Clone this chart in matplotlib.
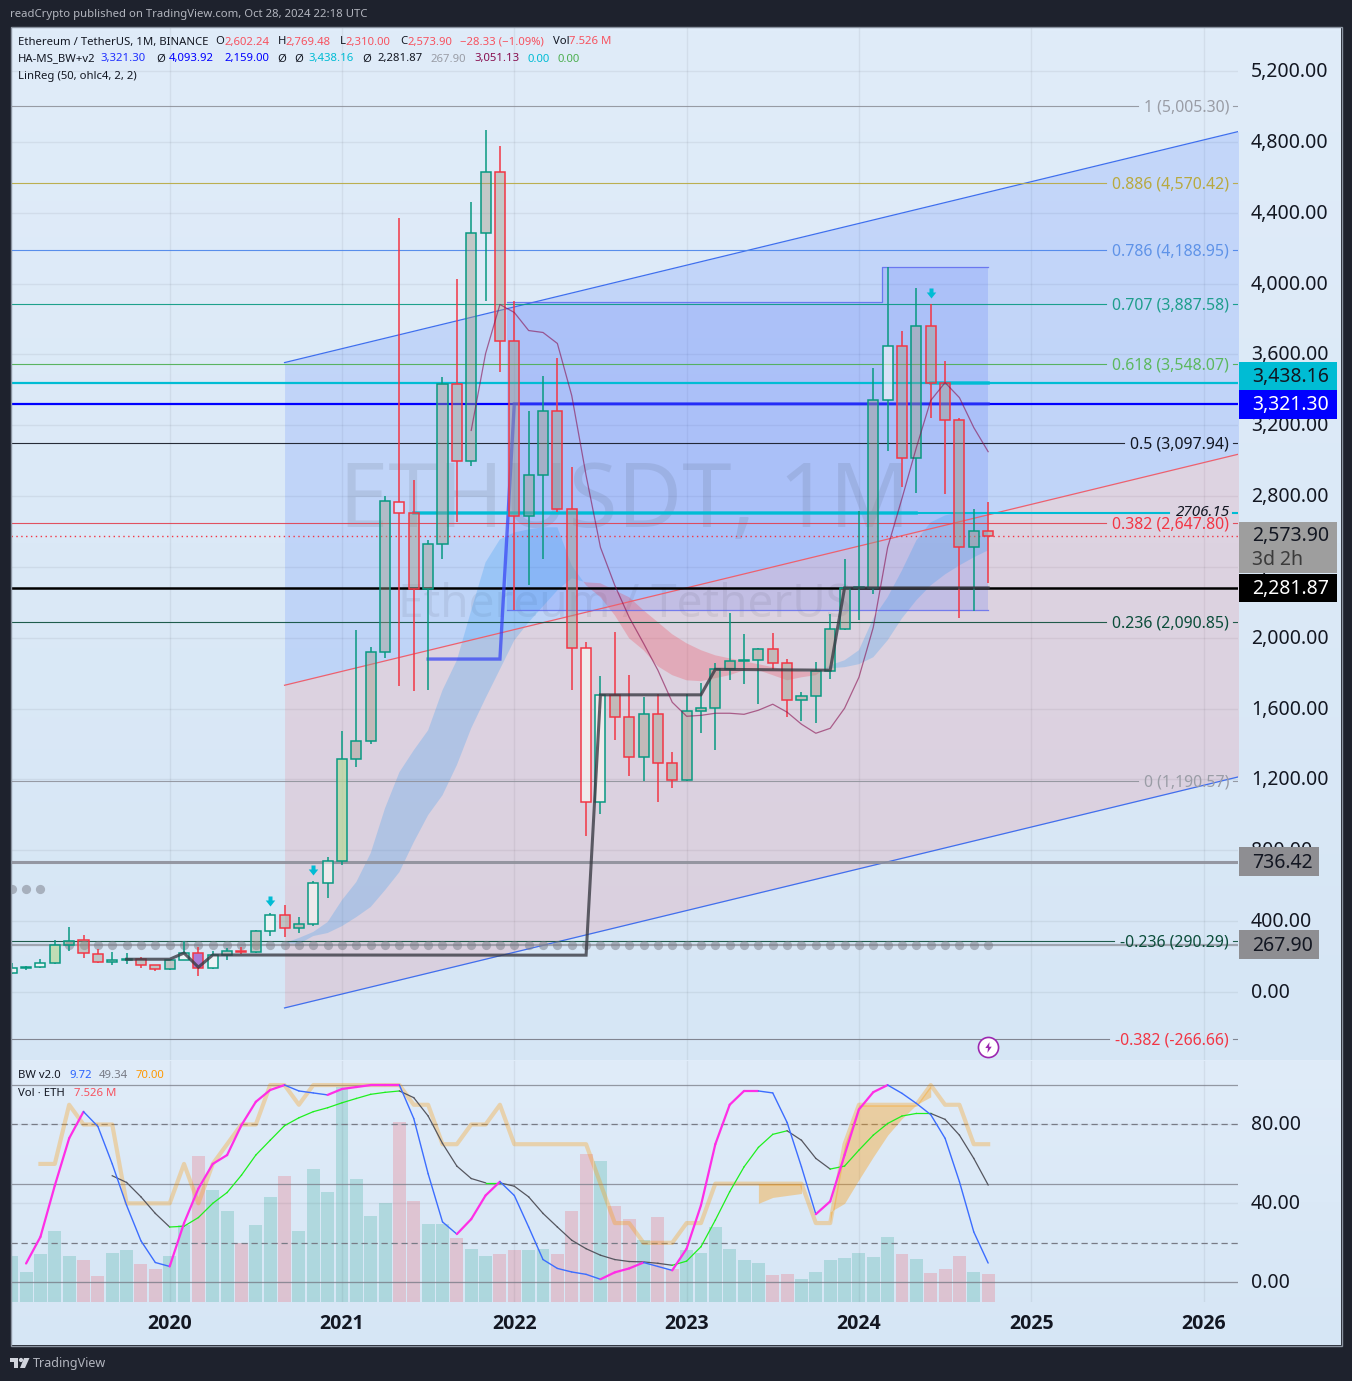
import numpy as np
import matplotlib
matplotlib.use('Agg')
import matplotlib.pyplot as plt
from matplotlib.colors import LinearSegmentedColormap
from matplotlib.patches import Rectangle, Polygon, Circle
from matplotlib.path import Path
from matplotlib.transforms import ScaledTranslation

plt.rcParams['font.family'] = ['Noto Sans', 'DejaVu Sans']

W, H = 1352, 1381

# months counted from Jan 2020
month_idx = list(range(-11, 58))
open_ = [107, 136, 141, 162, 268, 292, 217, 172, 180, 184, 151, 129, 180, 218, 133, 207, 231, 226, 346, 433, 359, 386, 616,
         737, 1313, 1416, 1917, 2769, 2706, 2275, 2530, 3433, 3000, 4288, 4631, 3676, 2688, 2919, 3281, 2727, 1942, 1071,
         1678, 1553, 1328, 1572, 1295, 1196, 1585, 1605, 1822, 1870, 1874, 1934, 1856, 1646, 1671, 1815, 2052, 2281, 2283,
         3340, 3646, 3015, 3760, 3438, 3232, 2513, 2602]
high = [165, 149, 186, 293, 366, 320, 243, 226, 220, 196, 152, 180, 288, 252, 231, 248, 254, 349, 445, 489, 422, 626, 762,
        1473, 2042, 1948, 2798, 4370, 2891, 2550, 3470, 4028, 4460, 4868, 4778, 3900, 3280, 3480, 3582, 2965, 1974, 1785,
        2030, 1790, 1663, 1680, 1353, 1680, 1743, 1857, 2142, 2020, 1945, 2029, 1879, 1694, 1865, 2136, 2445, 2717, 3522,
        4093, 3730, 3977, 3887, 3562, 3242, 2728, 2769]
low = [101, 125, 137, 159, 233, 193, 165, 154, 158, 136, 117, 126, 179, 90, 128, 180, 216, 220, 317, 308, 335, 373, 530,
       716, 1271, 1400, 1886, 1728, 1700, 1706, 2445, 2652, 2970, 3900, 3503, 2159, 2300, 2445, 2711, 1704, 880, 1006,
       1422, 1220, 1190, 1073, 1150, 1190, 1461, 1368, 1762, 1740, 1626, 1825, 1550, 1531, 1521, 1770, 2044, 2100, 2250,
       3056, 2852, 2817, 3240, 2810, 2111, 2150, 2310]
close = [136, 141, 162, 268, 290, 218, 172, 180, 183, 151, 129, 180, 218, 133, 207, 231, 226, 346, 433, 360, 386, 616, 737,
         1313, 1420, 1917, 2770, 2705, 2275, 2530, 3433, 3000, 4288, 4631, 3676, 2688, 2919, 3282, 2727, 1942, 1071, 1678,
         1553, 1328, 1572, 1295, 1196, 1585, 1605, 1822, 1870, 1874, 1934, 1856, 1646, 1671, 1815, 2052, 2281, 2283, 3340,
         3646, 3015, 3760, 3438, 3232, 2513, 2602, 2574]
volume = [12.5, 8.2, 12.8, 19.0, 12.3, 11.2, 6.9, 13.3, 13.9, 10.1, 8.8, 12.5, 20.6, 39.2, 30.0, 24.4, 15.8, 20.6, 28.1, 33.8,
          19.0, 35.7, 29.7, 57.8, 33.0, 23.0, 26.5, 48.3, 27.1, 20.9, 21.1, 17.1, 14.2, 12.5, 12.8, 13.9, 13.9, 14.2, 12.8,
          24.4, 39.7, 37.8, 25.7, 22.2, 16.6, 22.8, 9.0, 13.9, 13.1, 20.3, 14.2, 11.2, 10.4, 7.2, 7.4, 6.1, 8.2, 11.2, 11.7,
          13.1, 12.0, 17.4, 12.8, 11.5, 7.7, 8.8, 12.3, 8.0, 7.526]

light_candles = [-11, -9, 1, 3, 7, 10, 11, 29, 30, 50]
green_candles = [-8, 12]
purple_candles = [2]
soft_candles = [16]

years = ['2020', '2021', '2022', '2023', '2024', '2025', '2026']
year_months = [0, 12, 24, 36, 48, 60, 72]

# linear regression channel
channel_x = [8, 75]
channel_upper = [3554, 4870]
channel_mid = [1732, 3048]
channel_lower = [-90, 1226]

# range box from the indicator
box_x = [23.5, 49.6, 49.6, 57]
box_top = [3897, 3897, 4093, 4093]
box_bottom = [2159, 2159, 2159, 2159]

# ema ribbon
ribbon_x = list(range(8, 58))
ribbon_fast = [276, 305, 339, 395, 519, 621, 784, 1038, 1241, 1365, 1478, 1704, 1873, 2155, 2426, 2556, 2595, 2612, 2624, 2624,
               2409, 2296, 2229, 2127, 1997, 1930, 1839, 1789, 1760, 1755, 1772, 1789, 1817, 1817, 1789, 1760, 1777, 1789,
               1845, 1873, 1930, 2110, 2229, 2381, 2550, 2652, 2691, 2708, 2703, 2691]
ribbon_slow = [276, 271, 316, 333, 372, 423, 480, 575, 677, 846, 999, 1111, 1281, 1489, 1659, 1822, 1986, 2088, 2178, 2268,
               2336, 2313, 2308, 2268, 2229, 2155, 2088, 2020, 1969, 1930, 1901, 1884, 1867, 1851, 1834, 1817, 1811, 1805,
               1828, 1834, 1851, 1890, 1986, 2110, 2212, 2296, 2358, 2409, 2454, 2494]

# thin moving average
ma_x = list(range(21, 58))
ma_vals = [3171, 3605, 3882, 3837, 3735, 3724, 3662, 3368, 2917, 2511, 2296, 2116, 1969, 1817, 1636, 1557, 1562, 1574, 1574,
           1568, 1591, 1625, 1580, 1512, 1461, 1489, 1602, 1777, 2059, 2510, 2787, 3074, 3340, 3441, 3356, 3187, 3051]

# indicator stairs
blue_stair_x = [18, 23, 24, 57]
blue_stair = [1880, 1880, 3321.3, 3321.3]
grey_stair_x = [-3, 0, 1, 2, 3, 29, 30, 37, 38, 46, 47, 57]
grey_stair = [185, 185, 220, 140, 209, 208, 1678, 1678, 1822, 1817, 2281.87, 2281.87]
cyan_top_x = [53, 57]
cyan_top = [3438.16, 3438.16]
cyan_mid_x = [17, 52]
cyan_mid = [2706.15, 2706.15]

level_blue = 3321.30
level_cyan = 3438.16
level_black = 2281.87
level_grey = 736.42
level_dots = 267.90
level_last = 2573.90
level_2706 = 2706.15

dots_high_x = [-11, -10, -9]
dots_high = [581, 581, 581]
dots_low_x = list(range(-7, 58))

arrow_x = [7, 10, 53]
arrow_y = [514, 688, 3945]

fib_levels = [5005.30, 4570.42, 4188.95, 3887.58, 3548.07, 3097.94, 2647.80, 2090.85, 1190.57, 290.29, -266.66]
fib_labels = ['1 (5,005.30)', '0.886 (4,570.42)', '0.786 (4,188.95)', '0.707 (3,887.58)', '0.618 (3,548.07)',
              '0.5 (3,097.94)', '0.382 (2,647.80)', '0.236 (2,090.85)', '0 (1,190.57)', '-0.236 (290.29)',
              '-0.382 (-266.66)']
fib_text_colors = ['#9a9da6', '#b8a93f', '#5f93e8', '#1f9e8c', '#5cb85f', '#131722', '#f23645', '#0b4d3a', '#9a9da6',
                   '#0b4d3a', '#f23645']
fib_line_colors = ['#8f929b', '#b8a93f', '#4a84ea', '#089981', '#4caf50', '#131722', '#e2404f', '#0b4d3a', '#8f929b',
                   '#0b4d3a', '#787b86']

price_ticks = [0, 400, 800, 1200, 1600, 2000, 2400, 2800, 3200, 3600, 4000, 4400, 4800, 5200]

# BW oscillator
bw_x = list(range(-10, 58))
bw_main = [9.5, 23, 49, 73, 86.5, 79, 60, 39, 21, 10, 8, 30, 47.5, 60, 64.5, 79.7, 91.5, 97.5, 100, 97, 96, 95, 98, 99, 100,
           100, 100, 83, 55, 30.6, 24.4, 32, 44, 51, 44, 28, 11.5, 7, 5.2, 4, 1.5, 5, 7, 10, 8, 6, 17, 39, 70, 90, 97, 97,
           96, 81, 58.5, 34.5, 41, 64.5, 87.6, 96.4, 100, 95.8, 90.7, 85, 73, 51, 25.5, 9.72]
signal_x = list(range(-4, 58))
bw_signal = [54, 50.6, 43.3, 34.9, 28, 28.4, 32.8, 40, 45.5, 54.3, 64.5, 72, 79.4, 83.4, 86.5, 88.5, 91, 93.2, 95.3, 96.3, 97,
             93.6, 84.3, 70.4, 58.9, 52.6, 50.4, 50.4, 48.7, 43.3, 34.9, 28, 21.3, 17, 13.7, 11.5, 10.5, 10.3, 9.6, 8.6, 10.7,
             18, 31.5, 45.9, 58.5, 68.4, 75, 76.8, 72, 62.8, 57.4, 58.9, 67, 74.6, 80.5, 84.3, 85.6, 85.6, 82.6, 74.6, 62.8,
             49.34]
orange_x = list(range(-9, 58))
bw_orange = [60, 60, 90, 80, 80, 80, 40, 40, 40, 40, 60, 40, 60, 70, 80, 80, 100, 100, 90, 100, 100, 100, 100, 100, 100, 100,
             90, 90, 70, 70, 80, 80, 90, 70, 70, 70, 70, 70, 70, 50, 30, 30, 20, 20, 20, 30, 30, 50, 50, 50, 50, 50, 50, 50,
             30, 30, 70, 90, 90, 90, 90, 90, 100, 90, 90, 70, 70]
band1_x = [41, 42, 43, 44]
band1_low = [40, 43, 44, 45]
band1_high = [50, 50, 50, 50]
band2_x = [46, 47, 48, 49, 50, 51, 52, 53]
band2_low = [35.7, 40, 52, 63.6, 74.6, 83, 90, 94]
band2_high = [30, 70, 90, 90, 90, 90, 90, 100]

bw_solid = [100, 50, 0]
bw_dashed = [80, 20]
bw_ticks = [0, 40, 80]


def fx(x):
    return x / W


def fy(y):
    return 1 - y / H


def pane_axes(x0, y0, x1, y1, **kw):
    return fig.add_axes([fx(x0), fy(y1), (x1 - x0) / W, (y1 - y0) / H], **kw)


def gradient(x0, y0, x1, y1, top, bottom):
    a = pane_axes(x0, y0, x1, y1, zorder=-5)
    cmap = LinearSegmentedColormap.from_list('g', [top, bottom])
    a.imshow(np.linspace(0, 1, 256).reshape(-1, 1), aspect='auto', cmap=cmap)
    a.axis('off')


def tag(x0, y0, x1, y1, color):
    fig.add_artist(Rectangle((fx(x0), fy(y1)), (x1 - x0) / W, (y1 - y0) / H, transform=fig.transFigure,
                             facecolor=color, edgecolor='none', zorder=2))


def row(y, runs, size=8.15):
    for x, s, c in runs:
        fig.text(fx(x), fy(y), s, color=c, fontsize=size, va='center', ha='left', zorder=5)


fig = plt.figure(figsize=(W / 100, H / 100), dpi=100, facecolor='#1e222d')

gradient(11, 27, 1341, 1060, '#e0ecf9', '#d6e6f5')
gradient(11, 1060, 1341, 1345, '#e0ecf9', '#d6e6f5')
fig.add_artist(Rectangle((fx(10.5), fy(1345.5)), 1331 / W, 1318.5 / H, transform=fig.transFigure, facecolor='none',
                         edgecolor='#8a93a0', linewidth=1, zorder=1))

x_left = -11.05
x_right = 74.4
scale = 0.1771
ax = pane_axes(11, 27, 1238, 1060)
ax.set_xlim(x_left, x_right)
ax.set_ylim((992 - 1060) / scale, (992 - 27) / scale)
ax.patch.set_alpha(0)
for s in ax.spines.values():
    s.set_visible(False)
ax.set_xticks(year_months)
ax.set_xticklabels([])
ax.tick_params(axis='x', length=0)
ax.yaxis.tick_right()
ax.set_yticks(price_ticks)
ax.set_yticklabels([f'{v:,.2f}' for v in price_ticks], fontsize=14, color='#131722')
ax.tick_params(axis='y', length=0, pad=9.4)
ax.grid(True, color='#2a2e39', alpha=0.07, linewidth=1)
ax.set_axisbelow(True)
nudge = ScaledTranslation(0, 1.5 / 100, fig.dpi_scale_trans)
for lab in ax.get_yticklabels():
    lab.set_transform(lab.get_transform() + nudge)

# channel and box
ax.fill_between(channel_x, channel_mid, channel_upper, color='#2962ff', alpha=0.15, linewidth=0, zorder=1)
ax.fill_between(channel_x, channel_lower, channel_mid, color='#f23645', alpha=0.12, linewidth=0, zorder=1)
ax.plot(channel_x, channel_upper, color='#3f6fee', lw=0.9, zorder=3)
ax.plot(channel_x, channel_lower, color='#3f6fee', lw=0.9, zorder=3)
ax.plot(channel_x, channel_mid, color='#f0606c', lw=0.9, zorder=3)
ax.fill_between(box_x, box_bottom, box_top, color='#2a4bff', alpha=0.14, linewidth=0, zorder=1.2)
ax.plot(box_x, box_top, color='#5a66ee', lw=0.9, alpha=0.8, zorder=3)
ax.plot(box_x, box_bottom, color='#5a66ee', lw=0.9, alpha=0.8, zorder=3)

# watermarks
ax.text(0.5, 0.538, 'ETHUSDT, 1M', transform=ax.transAxes, fontsize=64, color='#2a2e39', alpha=0.1,
        ha='center', va='center', zorder=1.3)
ax.text(0.5, 0.44, 'Ethereum / TetherUS', transform=ax.transAxes, fontsize=33, color='#2a2e39', alpha=0.08,
        ha='center', va='center', zorder=1.3)

# ribbon
fast = np.array(ribbon_fast)
slow = np.array(ribbon_slow)
ax.fill_between(ribbon_x, slow, fast, where=fast >= slow, interpolate=True, color='#2196f3', alpha=0.23, linewidth=0, zorder=2)
ax.fill_between(ribbon_x, slow, fast, where=fast <= slow, interpolate=True, color='#f23645', alpha=0.25, linewidth=0, zorder=2)

# full width levels
ax.axhline(level_grey, color='#8d8f99', lw=2.2, alpha=0.9, zorder=3)
ax.axhline(level_dots, color='#8d8f99', lw=1.6, alpha=0.75, zorder=3)
ax.axhline(level_cyan, color='#00bcd4', lw=1.6, zorder=3.5)
ax.axhline(level_blue, color='#0000ff', lw=1.6, zorder=3.5)
ax.axhline(level_black, color='#000000', lw=1.8, zorder=3.5)
ax.axhline(level_last, color='#f23645', lw=1, ls=(0, (1, 2.5)), zorder=3.5)
ax.plot([17, (1168 - 169.5) / 14.35], [level_2706, level_2706], color='#00bcd4', lw=1.5, zorder=3.5)

ax.plot(blue_stair_x, blue_stair, color='#3340f5', lw=2.4, alpha=0.7, zorder=3.6, solid_joinstyle='miter')
ax.plot(cyan_top_x, cyan_top, color='#00bcd4', lw=2.6, alpha=0.8, zorder=3.6)
ax.plot(cyan_mid_x, cyan_mid, color='#00bcd4', lw=2.6, alpha=0.8, zorder=3.6)
ax.plot(grey_stair_x, grey_stair, color='#3a3b44', lw=2.2, alpha=0.8, zorder=4.6, solid_joinstyle='miter')
ax.plot(ma_x, ma_vals, color='#880e4f', lw=0.9, alpha=0.6, zorder=4.7)

ax.scatter(dots_low_x, [level_dots] * len(dots_low_x), s=44, color='#787b86', alpha=0.5, linewidth=0, zorder=3.7)
ax.scatter(dots_high_x, dots_high, s=44, color='#787b86', alpha=0.5, linewidth=0, zorder=3.7)

# candles
for m, o, h, l, c in zip(month_idx, open_, high, low, close):
    col = '#089981' if c >= o else '#f23645'
    face = (0.62, 0.6, 0.52, 0.42)
    if m in light_candles:
        face = (1, 1, 0.97, 0.55)
    if m in green_candles:
        face = (0.72, 0.85, 0.6, 0.7)
    if m in purple_candles:
        face = (0.6, 0.3, 0.8, 0.7)
    if m in soft_candles:
        face = (0.9, 0.9, 1, 0.6)
    ax.vlines(m, l, min(o, c), color=col, lw=1.1, zorder=4)
    ax.vlines(m, max(o, c), h, color=col, lw=1.1, zorder=4)
    ax.bar(m, max(abs(c - o), 4), bottom=min(o, c), width=0.7, facecolor=face, edgecolor=col, linewidth=1.1, zorder=4.2)

# signal arrows
arrow_marker = Path([(-0.4, 1), (0.4, 1), (0.4, 0.2), (0.95, 0.2), (0, -1), (-0.95, 0.2), (-0.4, 0.2), (-0.4, 1)], closed=True)
ax.scatter(arrow_x, arrow_y, marker=arrow_marker, s=52, color='#00bcd4', linewidth=0, zorder=5)

# lightning badge
ax.scatter([57], [-310], s=210, facecolor='white', edgecolor='#9c27b0', linewidth=1.2, zorder=6)
bolt = Path([(0.2, 1), (-0.6, -0.1), (-0.1, -0.1), (-0.2, -1), (0.6, 0.15), (0.1, 0.15), (0.2, 1)], closed=True)
ax.scatter([57], [-310], marker=bolt, s=60, color='#9c27b0', linewidth=0, zorder=7)

# fibonacci labels, lines stop at the label
fig.canvas.draw()
renderer = fig.canvas.get_renderer()
for val, lab, tc, lc in zip(fib_levels, fib_labels, fib_text_colors, fib_line_colors):
    t = ax.annotate(lab, xy=(1, val), xycoords=('axes fraction', 'data'), xytext=(-9, -1.5), textcoords='offset pixels',
                    ha='right', va='center', fontsize=11.4, color=tc, zorder=8)
    x0 = t.get_window_extent(renderer).x0 - 6
    x_end = ax.transData.inverted().transform((x0, 0))[0]
    ax.plot([x_left, x_end], [val, val], color=lc, lw=0.8, alpha=0.9, zorder=3.2)
    ax.plot([x_right - 0.35, x_right], [val, val], color=lc, lw=0.8, alpha=0.9, zorder=3.2)
ax.annotate('2706.15', xy=(1, level_2706), xycoords=('axes fraction', 'data'), xytext=(-8, 0), textcoords='offset pixels',
            ha='right', va='center', fontsize=11, style='italic', color='#131722', zorder=8)
ax.plot([x_right - 0.35, x_right], [level_2706, level_2706], color='#00bcd4', lw=1.5, zorder=3.5)
ax.set_xlim(x_left, x_right)

# price tags
tag(1239, 362, 1337, 390, '#00bcd4')
tag(1239, 390, 1337, 419, '#0000ff')
tag(1239, 522, 1337, 573, '#9e9e9e')
tag(1239, 574, 1337, 602, '#000000')
tag(1239, 847, 1319, 876, '#8e8e92')
tag(1239, 930, 1319, 959, '#8e8e92')
row(377, [(1252, '3,438.16', '#131722')], 14)
row(405, [(1252, '3,321.30', '#ffffff')], 14)
row(536, [(1252, '2,573.90', '#131722')], 14)
row(560, [(1252, '3d 2h', '#3b3b3b')], 14)
row(589, [(1252, '2,281.87', '#ffffff')], 14)
row(863, [(1252, '736.42', '#131722')], 14)
row(946, [(1252, '267.90', '#131722')], 14)

# lower pane
sub = pane_axes(11, 1061, 1238, 1302)
vol = sub.twinx()
sub.set_xlim(x_left, x_right)
sub.set_ylim(-10.03, 112.2)
sub.patch.set_alpha(0)
for s in sub.spines.values():
    s.set_visible(False)
sub.set_xticks(year_months)
sub.set_xticklabels(years, fontsize=14, color='#131722', family='Open Sans', fontweight='bold')
sub.yaxis.tick_right()
sub.set_yticks(bw_ticks)
sub.set_yticklabels([f'{v:.2f}' for v in bw_ticks], fontsize=14, color='#131722')
sub.tick_params(axis='y', length=0, pad=9.4)
sub.tick_params(axis='x', length=0, pad=8.5)
sub.grid(True, color='#2a2e39', alpha=0.07, linewidth=1)
sub.set_axisbelow(True)
for lab in sub.get_yticklabels():
    lab.set_transform(lab.get_transform() + nudge)

vol.set_ylim(0, 64.8)
vol.axis('off')
vol.set_zorder(sub.get_zorder() - 1)
bar_cols = ['#089981' if c >= o else '#f23645' for o, c in zip(open_, close)]
vol.bar(month_idx, volume, width=0.9, color=bar_cols, alpha=0.2, linewidth=0)

for v in bw_solid:
    sub.axhline(v, color='#787b86', lw=0.9, alpha=0.75, zorder=2)
for v in bw_dashed:
    sub.axhline(v, color='#787b86', lw=0.9, ls=(0, (5, 3)), zorder=2)

sub.fill_between(band1_x, band1_low, band1_high, color='#ff9800', alpha=0.35, linewidth=0, zorder=2.5)
sub.fill_between(band2_x, band2_low, band2_high, color='#ff9800', alpha=0.35, linewidth=0, zorder=2.5)
sub.plot(orange_x, bw_orange, color='#ff9800', lw=3, alpha=0.3, zorder=3)

for i in range(len(signal_x) - 1):
    up = bw_signal[i + 1] >= bw_signal[i]
    sub.plot(signal_x[i:i + 2], bw_signal[i:i + 2], color='#1ef01e' if up else '#55565f', lw=0.9, zorder=4)
for i in range(len(bw_x) - 1):
    up = bw_main[i + 1] >= bw_main[i]
    sub.plot(bw_x[i:i + 2], bw_main[i:i + 2], color='#ff2ee6' if up else '#3c6dff', lw=1.6 if up else 1,
             solid_capstyle='round', zorder=5)

# legends
ink = '#131722'
red = '#f7525f'
row(15, [(10, 'readCrypto published on TradingView.com, Oct 28, 2024 22:18 UTC', '#b2b5be')])
row(42, [(18, 'Ethereum / TetherUS, 1M, BINANCE', ink), (215.5, 'O', ink), (224, '2,602.24', red), (277.5, 'H', ink),
         (286, '2,769.48', red), (339.6, 'L', ink), (345.7, '2,310.00', red), (400, 'C', ink), (407, '2,573.90', red),
         (460, '−28.33 (−1.09%)', red), (552.6, 'Vol', ink), (569, '7.526 M', red)])
row(59, [(18, 'HA-MS_BW+v2', ink), (100, '3,321.30', '#2030ff'), (156, 'Ø', ink), (169, '4,093.92', '#0000ff'),
         (224, '2,159.00', '#0000ff'), (277.6, 'Ø', ink), (294, 'Ø', ink), (308, '3,438.16', '#00bcd4'), (362.4, 'Ø', ink),
         (377.5, '2,281.87', ink), (430.6, '267.90', '#9a9da6'), (474, '3,051.13', '#880e4f'), (527.8, '0.00', '#00bcd4'),
         (558, '0.00', '#4caf50')])
row(76, [(18, 'LinReg (50, ohlc4, 2, 2)', ink)])
row(1075, [(18, 'BW v2.0', ink), (69, '9.72', '#2962ff'), (99, '49.34', '#787b86'), (136, '70.00', '#ff9800')])
row(1093, [(18, 'Vol · ETH', ink), (74, '7.526 M', red)])

# footer logo
logo = '#d1d4dc'
fig.add_artist(Polygon([(fx(10), fy(1358)), (fx(18), fy(1358)), (fx(18), fy(1368)), (fx(14), fy(1368)), (fx(14), fy(1362)),
                        (fx(10), fy(1362))], transform=fig.transFigure, facecolor=logo, edgecolor='none', zorder=2))
fig.add_artist(Polygon([(fx(24), fy(1358)), (fx(29.5), fy(1358)), (fx(25), fy(1368)), (fx(20), fy(1368))],
                       transform=fig.transFigure, facecolor=logo, edgecolor='none', zorder=2))
fig.add_artist(Circle((fx(21), fy(1360)), 2.1 / W, transform=fig.transFigure, facecolor=logo, edgecolor='none', zorder=2))
row(1364, [(33, 'TradingView', '#b2b5be')], 9)

fig.savefig('out.png', dpi=100, facecolor=fig.get_facecolor())
